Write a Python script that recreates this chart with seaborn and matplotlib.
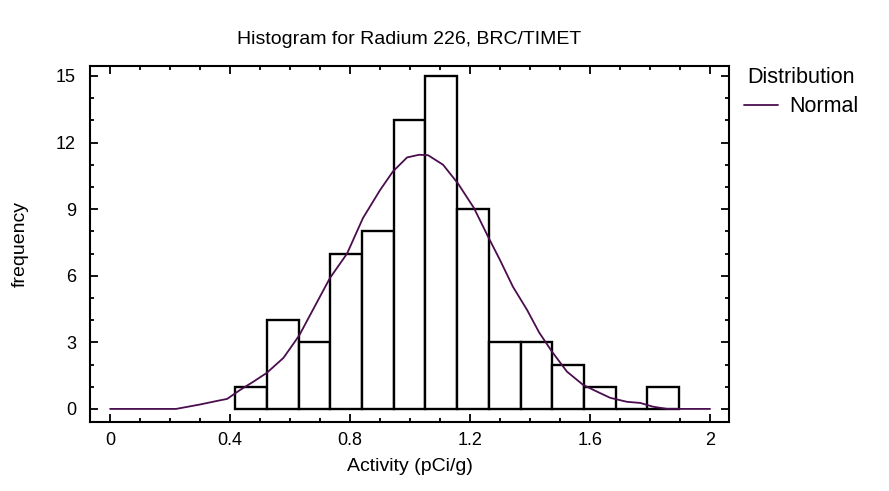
import numpy as np
import pandas as pd
import matplotlib
matplotlib.use('Agg')
import matplotlib.pyplot as plt
import seaborn as sns
from matplotlib.ticker import MultipleLocator

# 히스토그램 구간 (Activity, pCi/g)
bin_edges = [0.417, 0.5227, 0.6284, 0.7341, 0.8398, 0.9455, 1.0512, 1.1569,
             1.2626, 1.3683, 1.474, 1.5797, 1.6854, 1.7911, 1.8968]
counts = [1, 4, 3, 7, 8, 13, 15, 9, 3, 3, 2, 1, 0, 1]

# Normal 곡선
curve_x = [0, 0.22, 0.30, 0.36, 0.39, 0.433, 0.478, 0.522, 0.578, 0.63, 0.733,
           0.79, 0.843, 0.90, 0.943, 0.99, 1.03, 1.06, 1.11, 1.16, 1.213, 1.26,
           1.30, 1.343, 1.39, 1.43, 1.473, 1.523, 1.577, 1.623, 1.667, 1.723,
           1.767, 1.81, 1.857, 2.0]
curve_y = [0, 0, 0.2, 0.37, 0.45, 0.85, 1.23, 1.62, 2.3, 3.3, 5.9,
           7.0, 8.6, 9.86, 10.7, 11.33, 11.45, 11.43, 11.0, 10.15, 9.05, 7.76,
           6.7, 5.5, 4.46, 3.45, 2.58, 1.68, 1.08, 0.78, 0.5, 0.32,
           0.27, 0.1, 0, 0]

sns.set_style('white')
plt.rcParams['font.family'] = ['Liberation Sans', 'DejaVu Sans']
plt.rcParams['text.color'] = 'black'
plt.rcParams['axes.labelcolor'] = 'black'
plt.rcParams['xtick.color'] = 'black'
plt.rcParams['ytick.color'] = 'black'

centers = [(a + b) / 2 for a, b in zip(bin_edges[:-1], bin_edges[1:])]
hist_df = pd.DataFrame({'activity': centers, 'count': counts})
curve_df = pd.DataFrame({'x': curve_x, 'y': curve_y})

fig = plt.figure(figsize=(8.89, 4.91), dpi=100)
ax = fig.add_axes([0.1012, 0.1405, 0.7188, 0.7251])

sns.histplot(data=hist_df, x='activity', weights='count', bins=bin_edges,
             fill=True, color='white', edgecolor='black', linewidth=1.7,
             alpha=1, ax=ax)
sns.lineplot(data=curve_df, x='x', y='y', color='#4a0d4e', linewidth=1.3,
             ax=ax, label='Normal')

ax.set_xlim(-0.067, 2.063)
ax.set_ylim(-0.59, 15.45)
ax.xaxis.set_minor_locator(MultipleLocator(0.1))
ax.yaxis.set_major_locator(MultipleLocator(3))
ax.yaxis.set_minor_locator(MultipleLocator(1))
ax.set_xticks([0, 0.4, 0.8, 1.2, 1.6, 2.0])
ax.set_xticklabels(['0', '0.4', '0.8', '1.2', '1.6', '2'])
ax.tick_params(which='both', direction='in', top=True, right=True,
               bottom=True, left=True, labelsize=13, width=1.3)
ax.tick_params(which='major', length=6)
ax.tick_params(axis='x', which='major', pad=7)
ax.tick_params(axis='y', which='major', pad=10)
ax.tick_params(which='minor', length=3)
for s in ax.spines.values():
    s.set_color('black')
    s.set_linewidth(1.5)

ax.set_xlabel('Activity (pCi/g)', fontsize=14, labelpad=7)
ax.set_ylabel('frequency', fontsize=14, labelpad=20)
ax.set_title('Histogram for Radium 226, BRC/TIMET', fontsize=14, pad=16)

leg = ax.legend(title='Distribution', loc='upper left',
                bbox_to_anchor=(1.0, 1.04), frameon=False, fontsize=15.5,
                title_fontsize=15.5, handlelength=1.6, handletextpad=0.5,
                labelspacing=0.4, borderpad=0.2)

fig.savefig('out.png', dpi=100)
